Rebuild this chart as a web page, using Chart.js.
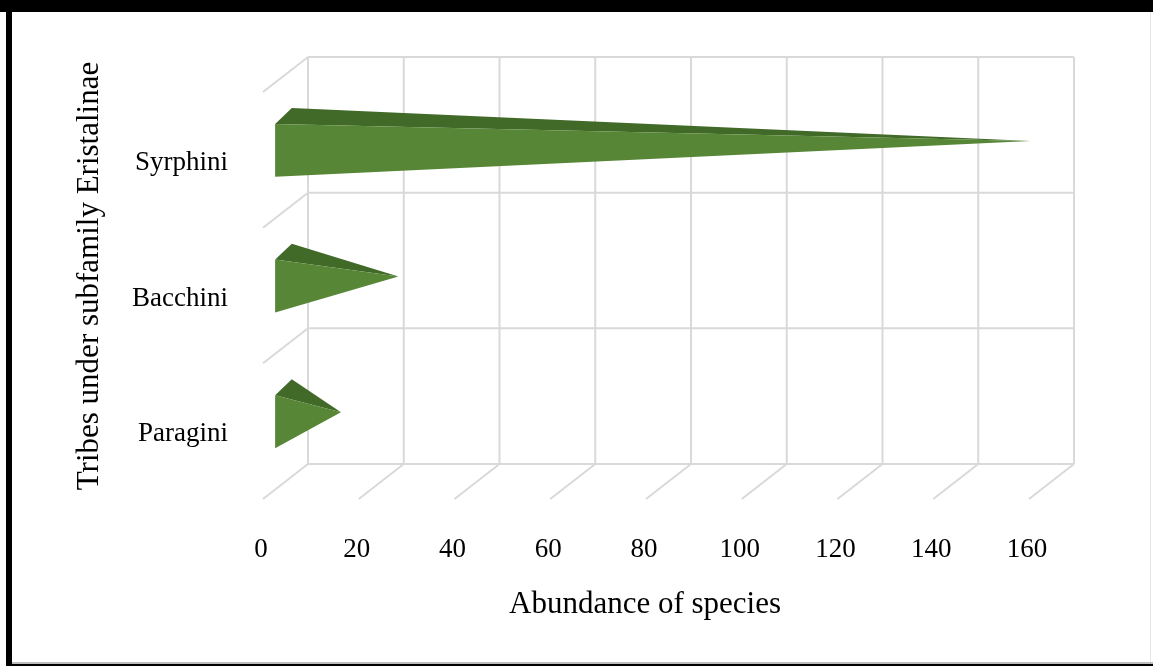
<!DOCTYPE html>
<html>
<head>
<meta charset="utf-8">
<script src="https://cdn.jsdelivr.net/npm/chart.js@4.4.1/dist/chart.umd.min.js"></script>
<style>
  html, body { margin: 0; padding: 0; background: #fff; }
  canvas { display: block; }
</style>
</head>
<body>
<canvas id="tribes" width="1153" height="666"></canvas>
<script>
// data
var tribes = ["Syrphini", "Bacchini", "Paragini"];
var abundance = [156, 24, 12];
var xTicks = [0, 20, 40, 60, 80, 100, 120, 140, 160];

var serif = "'Liberation Serif', 'Times New Roman', serif";
var gridCol = '#d9d9d9';
var depth = { x: -45, y: 35 };   // back wall -> front edge of the floor

function noPad(s) {
  s.paddingTop = 0; s.paddingBottom = 0; s.paddingLeft = 0; s.paddingRight = 0;
}

// back wall, side wall and floor lines of the 3d box
var wallPlugin = {
  id: 'walls',
  beforeDatasetsDraw: function (chart) {
    var ctx = chart.ctx, xs = chart.scales.x, ys = chart.scales.y;
    var top = chart.chartArea.top, bottom = chart.chartArea.bottom;
    var left = xs.getPixelForValue(xTicks[0]);
    var right = xs.getPixelForValue(xTicks[xTicks.length - 1]);
    var band = (bottom - top) / tribes.length;
    ctx.save();
    ctx.strokeStyle = gridCol;
    ctx.lineWidth = 2;
    ctx.beginPath();
    xTicks.forEach(function (v) {
      var px = xs.getPixelForValue(v);
      ctx.moveTo(px, top); ctx.lineTo(px, bottom);
      ctx.moveTo(px, bottom); ctx.lineTo(px + depth.x, bottom + depth.y);
    });
    for (var k = 0; k <= tribes.length; k++) {
      var py = ys.getPixelForValue(0) - band / 2 + k * band;
      ctx.moveTo(left, py); ctx.lineTo(right, py);
      ctx.moveTo(left, py); ctx.lineTo(left + depth.x, py + depth.y);
    }
    ctx.stroke();
    ctx.restore();
  }
};

// pyramids, drawn from the bar elements and the x scale
var pyramidPlugin = {
  id: 'pyramids',
  afterDatasetsDraw: function (chart) {
    var ctx = chart.ctx, xs = chart.scales.x;
    var meta = chart.getDatasetMeta(0);
    var band = (chart.chartArea.bottom - chart.chartArea.top) / tribes.length;
    var half = band * 0.195;
    var tFront = 0.73, tBack = 0.36, tMid = 0.545;
    ctx.save();
    meta.data.forEach(function (el, i) {
      var cy = el.y;
      var x0 = xs.getPixelForValue(0);
      var ft = { x: x0 + depth.x * tFront, y: cy + depth.y * tFront - half };
      var fb = { x: ft.x, y: cy + depth.y * tFront + half };
      var bt = { x: x0 + depth.x * tBack, y: cy + depth.y * tBack - half - 3 };
      var ap = { x: xs.getPixelForValue(abundance[i]) + depth.x * tMid, y: cy + depth.y * tMid - 3 };
      ctx.fillStyle = '#416a29';
      ctx.beginPath();
      ctx.moveTo(ft.x, ft.y); ctx.lineTo(bt.x, bt.y); ctx.lineTo(ap.x, ap.y); ctx.closePath();
      ctx.fill();
      ctx.fillStyle = '#578736';
      ctx.beginPath();
      ctx.moveTo(ft.x, ft.y); ctx.lineTo(fb.x, fb.y); ctx.lineTo(ap.x, ap.y); ctx.closePath();
      ctx.fill();
    });
    ctx.restore();
  }
};

// axis titles and the black frame of the picture
var framePlugin = {
  id: 'frame',
  afterDraw: function (chart) {
    var ctx = chart.ctx;
    ctx.save();
    ctx.fillStyle = '#000';
    ctx.font = "31px " + serif;
    ctx.textAlign = 'center';
    ctx.textBaseline = 'middle';
    ctx.fillText('Abundance of species', 645, 605);
    ctx.translate(90, 276);
    ctx.rotate(-Math.PI / 2);
    ctx.fillText('Tribes under subfamily Eristalinae', 0, 0);
    ctx.restore();

    ctx.save();
    ctx.fillStyle = '#000';
    ctx.fillRect(0, 0, 1153, 12);
    ctx.fillRect(6, 0, 6, 666);
    ctx.fillRect(6, 664, 1147, 2);
    ctx.fillStyle = '#bdbdbd';
    ctx.fillRect(12, 662, 1141, 2);
    ctx.fillStyle = '#e6e6e6';
    ctx.fillRect(1150, 12, 1, 650);
    ctx.restore();
  }
};

new Chart(document.getElementById('tribes'), {
  type: 'bar',
  data: {
    labels: tribes,
    datasets: [{
      label: 'Abundance of species',
      data: abundance,
      backgroundColor: 'rgba(0,0,0,0)',
      borderWidth: 0
    }]
  },
  options: {
    indexAxis: 'y',
    responsive: false,
    animation: false,
    devicePixelRatio: 1,
    layout: { padding: { top: 57, right: 79, left: 0, bottom: 0 } },
    plugins: { legend: { display: false }, tooltip: { enabled: false } },
    scales: {
      x: {
        min: 0, max: 160,
        afterFit: function (s) { s.height = 202; noPad(s); },
        afterBuildTicks: function (s) { s.ticks = xTicks.map(function (v) { return { value: v }; }); },
        grid: { display: false },
        border: { display: false },
        ticks: { color: '#000', font: { family: serif, size: 27 }, padding: 62, labelOffset: -47, maxRotation: 0 }
      },
      y: {
        afterFit: function (s) { s.width = 308; noPad(s); },
        grid: { display: false },
        border: { display: false },
        ticks: { color: '#000', font: { family: serif, size: 27 }, padding: 72, labelOffset: 38 }
      }
    }
  },
  plugins: [wallPlugin, pyramidPlugin, framePlugin]
});
</script>
</body>
</html>
